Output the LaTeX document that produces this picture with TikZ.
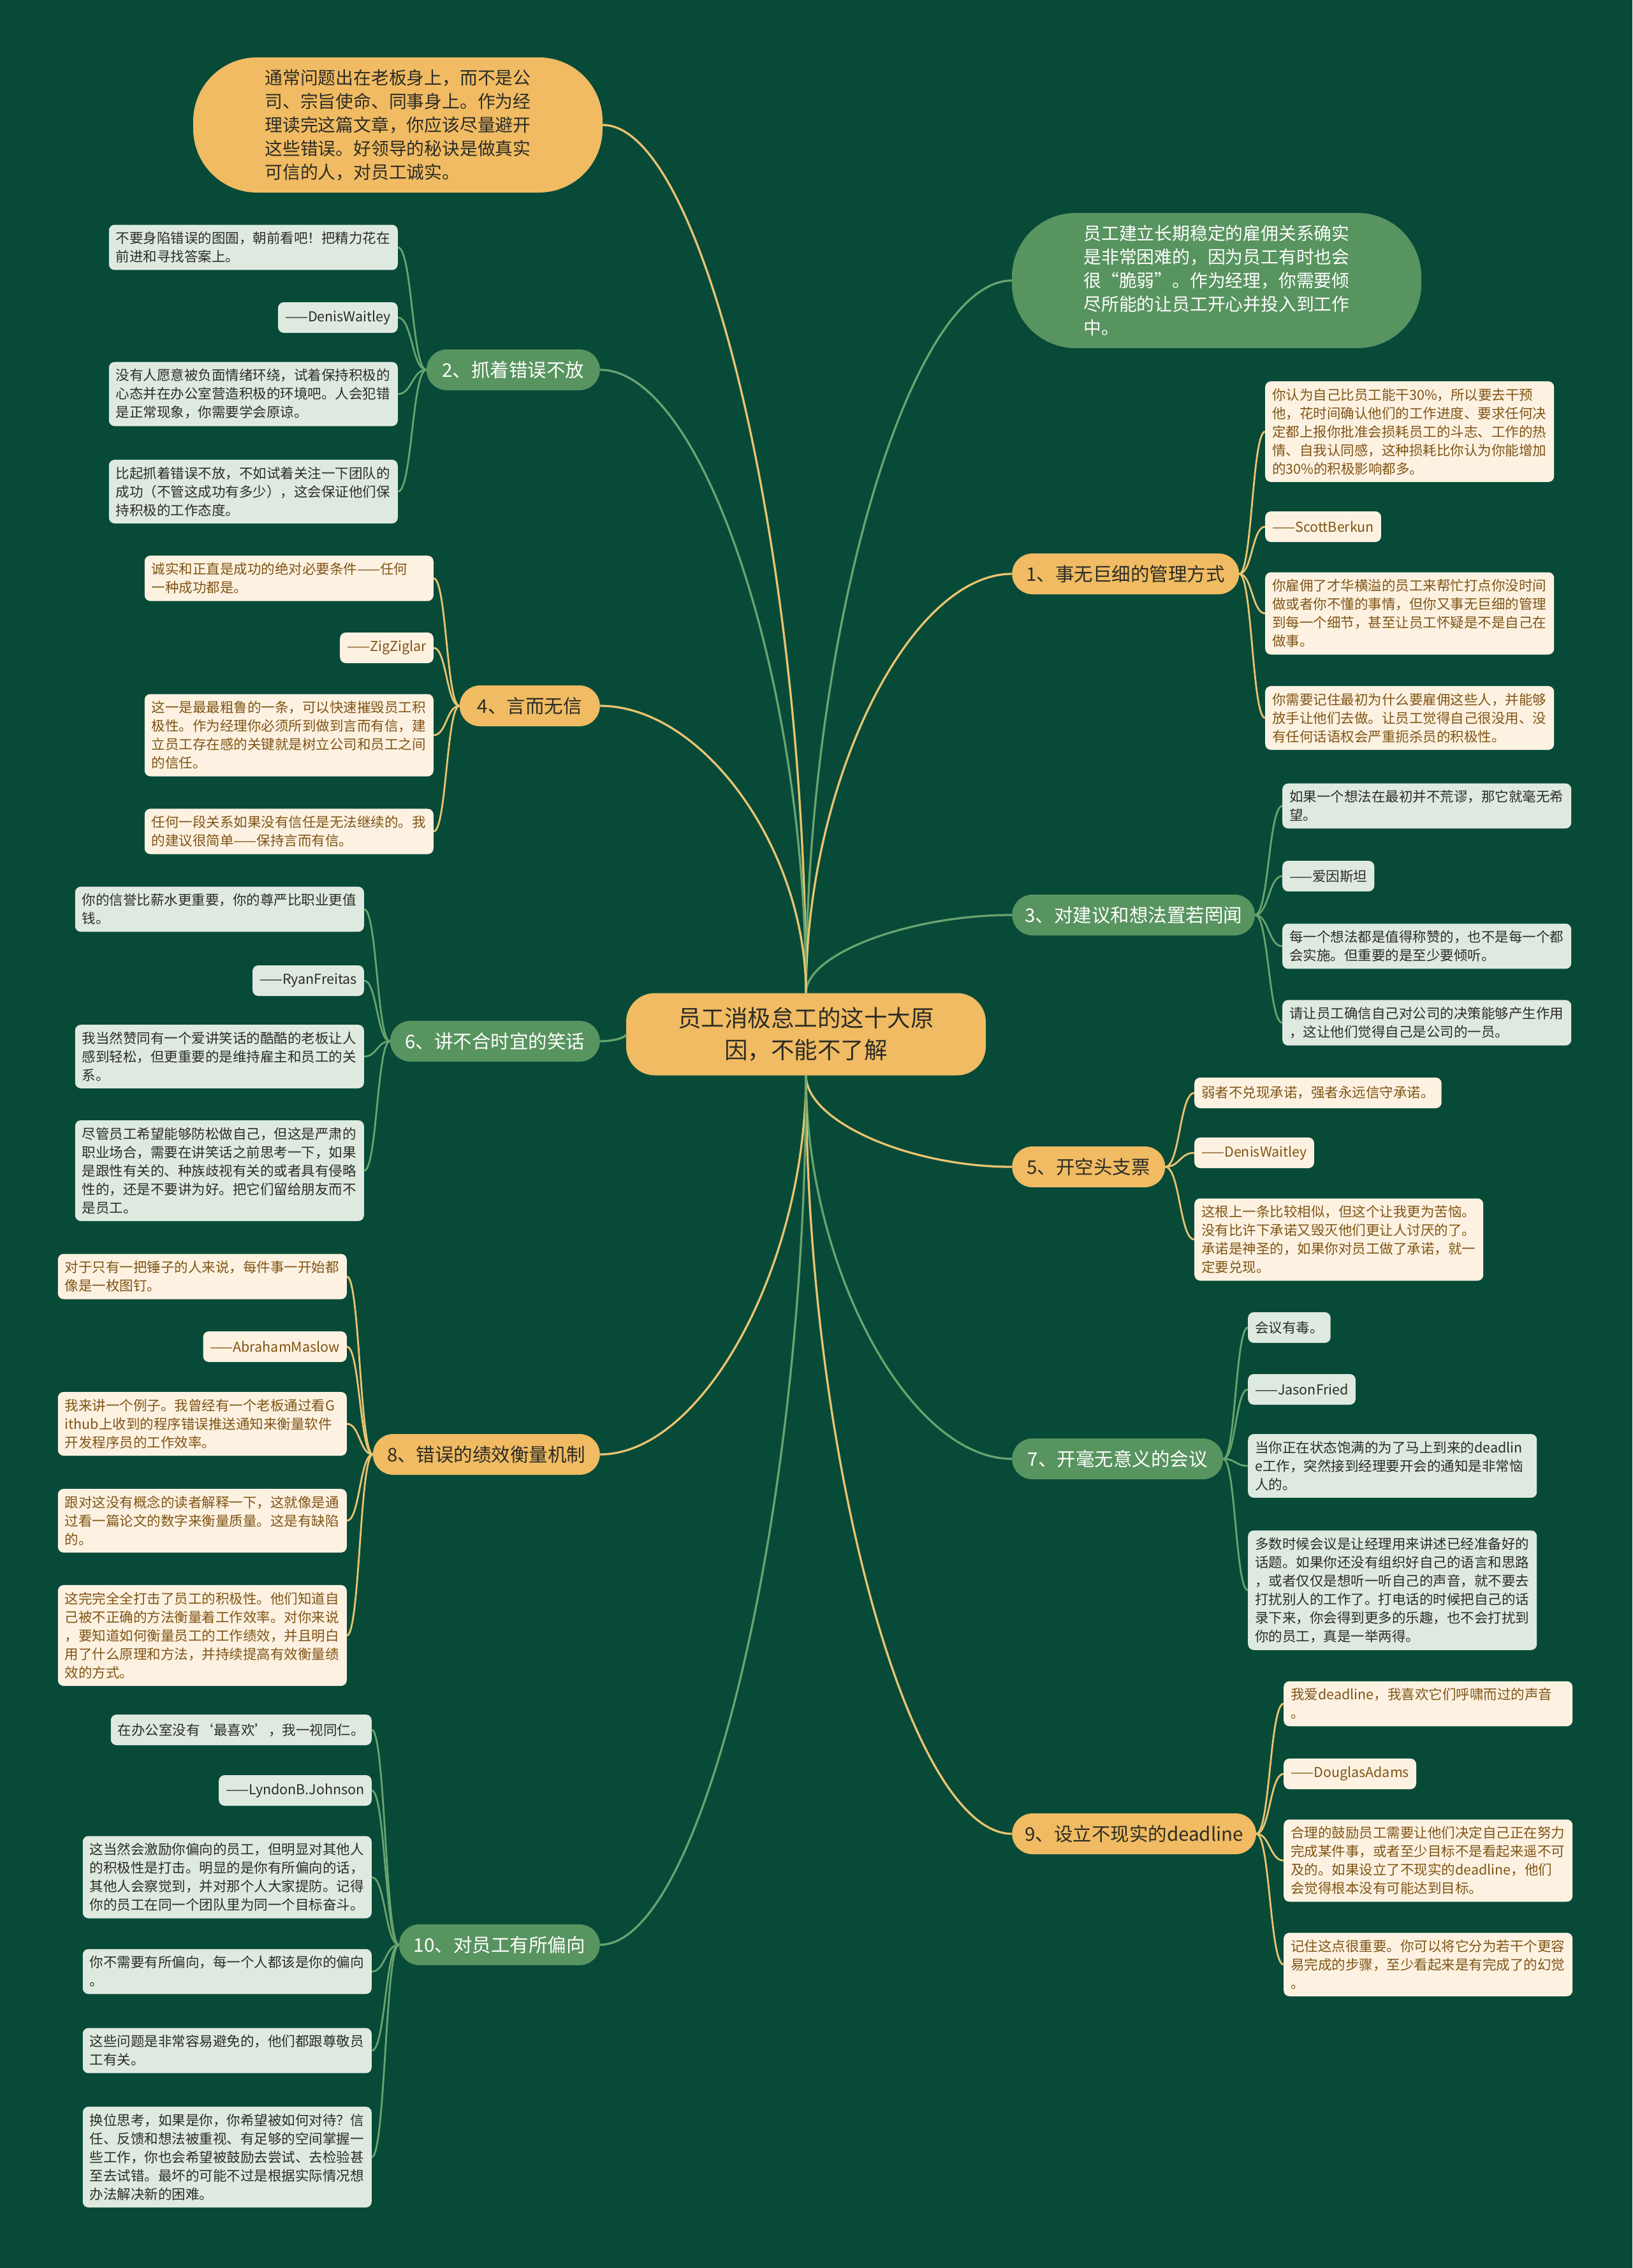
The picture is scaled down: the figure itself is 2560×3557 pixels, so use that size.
\documentclass[tikz,border=0pt]{standalone}
\usepackage{fontspec}
\setmainfont{Noto Sans CJK SC}
\usetikzlibrary{calc}
\definecolor{mapbg}{RGB}{8,74,56}
\definecolor{maporange}{RGB}{240,187,98}
\definecolor{mapgreen}{RGB}{88,148,95}
\definecolor{leafgreen}{RGB}{222,234,224}
\definecolor{leafcream}{RGB}{253,242,226}
\definecolor{inkbrown}{RGB}{128,84,20}
\definecolor{inkdark}{RGB}{44,44,38}
\definecolor{lineorange}{RGB}{233,196,112}
\definecolor{linegreen}{RGB}{104,164,110}

\begin{document}
\begin{tikzpicture}[
    x=1pt, y=1pt,
    root/.style={rectangle, rounded corners=45pt, fill=maporange, text=inkdark,
                 minimum width=564pt, minimum height=129pt, align=center,
                 font=\fontsize{36.5}{50}\selectfont},
    note/.style={rectangle, rounded corners=100pt, minimum width=642pt,
                 minimum height=212pt, align=left,
                 font=\fontsize{27.8}{37}\selectfont},
    topic/.style={rectangle, rounded corners=32pt, minimum height=64pt,
                  inner xsep=20pt, font=\fontsize{29.5}{34}\selectfont},
    gtopic/.style={topic, fill=mapgreen, text=white},
    otopic/.style={topic, fill=maporange, text=inkdark},
    leaf/.style={rectangle, rounded corners=9pt, inner xsep=11pt, inner ysep=11pt,
                 minimum height=48pt, align=left,
                 font=\fontsize{21.5}{29}\selectfont},
    gleaf/.style={leaf, fill=leafgreen, text=inkdark},
    oleaf/.style={leaf, fill=leafcream, text=inkbrown},
    wide/.style={text width=431pt},
    branch/.style={line width=3.3pt, to path={
        .. controls ($(\tikztostart)!.5!(\tikztostart |- \tikztotarget)$)
        and ($(\tikztotarget)!.5!(\tikztostart |- \tikztotarget)$) .. (\tikztotarget)}},
    twig/.style={line width=2.8pt, to path={
        .. controls ($(\tikztostart)!.5!(\tikztotarget |- \tikztostart)$)
        and ($(\tikztotarget)!.5!(\tikztostart |- \tikztotarget)$) .. (\tikztotarget)}}
  ]
  \useasboundingbox (0,0) rectangle (2560,-3557);
  \fill[mapbg] (0,0) rectangle (2560,-3557);

  \node[root] (root) at (1264,-1622) {员工消极怠工的这十大原\\因，不能不了解};

  \node[note, fill=maporange, text=inkdark] (tipL) at (624,-196)
    {通常问题出在老板身上，而不是公\\司、宗旨使命、同事身上。作为经\\理读完这篇文章，你应该尽量避开\\这些错误。好领导的秘诀是做真实\\可信的人，对员工诚实。};
  \node[note, fill=mapgreen, text=white] (tipR) at (1908,-440)
    {员工建立长期稳定的雇佣关系确实\\是非常困难的，因为员工有时也会\\很“脆弱”。作为经理，你需要倾\\尽所能的让员工开心并投入到工作\\中。};

  \node[otopic, minimum width=356pt, anchor=west] (b1) at (1587,-900) {1、事无巨细的管理方式};
  \node[gtopic, minimum width=272pt, anchor=east] (b2) at (941,-580) {2、抓着错误不放};
  \node[gtopic, minimum width=372pt, anchor=west] (b3) at (1587,-1435) {3、对建议和想法置若罔闻};
  \node[otopic, minimum width=220pt, anchor=east] (b4) at (941,-1107) {4、言而无信};
  \node[otopic, minimum width=240pt, anchor=west] (b5) at (1587,-1830) {5、开空头支票};
  \node[gtopic, minimum width=329pt, anchor=east] (b6) at (941,-1633) {6、讲不合时宜的笑话};
  \node[gtopic, minimum width=331pt, anchor=west] (b7) at (1587,-2288) {7、开毫无意义的会议};
  \node[otopic, minimum width=356pt, anchor=east] (b8) at (941,-2281) {8、错误的绩效衡量机制};
  \node[otopic, minimum width=379pt, anchor=west] (b9) at (1587,-2876) {9、设立不现实的deadline};
  \node[gtopic, minimum width=315pt, anchor=east] (b10) at (941,-3050) {10、对员工有所偏向};

  \node[gleaf, wide, anchor=east] (l2a) at (624,-388)
    {不要身陷错误的图圄，朝前看吧！把精力花在\\前进和寻找答案上。};
  \node[gleaf, anchor=east] (l2b) at (624,-498) {——DenisWaitley};
  \node[gleaf, wide, anchor=east] (l2c) at (624,-618)
    {没有人愿意被负面情绪环绕，试着保持积极的\\心态并在办公室营造积极的环境吧。人会犯错\\是正常现象，你需要学会原谅。};
  \node[gleaf, wide, anchor=east] (l2d) at (624,-771)
    {比起抓着错误不放，不如试着关注一下团队的\\成功（不管这成功有多少），这会保证他们保\\持积极的工作态度。};

  \node[oleaf, wide, anchor=east] (l4a) at (680,-907)
    {诚实和正直是成功的绝对必要条件——任何\\一种成功都是。};
  \node[oleaf, anchor=east] (l4b) at (680,-1016) {——ZigZiglar};
  \node[oleaf, wide, anchor=east] (l4c) at (680,-1153)
    {这一是最最粗鲁的一条，可以快速摧毁员工积\\极性。作为经理你必须所到做到言而有信，建\\立员工存在感的关键就是树立公司和员工之间\\的信任。};
  \node[oleaf, wide, anchor=east] (l4d) at (680,-1304)
    {任何一段关系如果没有信任是无法继续的。我\\的建议很简单——保持言而有信。};

  \node[gleaf, wide, anchor=east] (l6a) at (571,-1426)
    {你的信誉比薪水更重要，你的尊严比职业更值\\钱。};
  \node[gleaf, anchor=east] (l6b) at (571,-1538) {——RyanFreitas};
  \node[gleaf, wide, anchor=east] (l6c) at (571,-1657)
    {我当然赞同有一个爱讲笑话的酷酷的老板让人\\感到轻松，但更重要的是维持雇主和员工的关\\系。};
  \node[gleaf, wide, anchor=east] (l6d) at (571,-1836)
    {尽管员工希望能够防松做自己，但这是严肃的\\职业场合，需要在讲笑话之前思考一下，如果\\是跟性有关的、种族歧视有关的或者具有侵略\\性的，还是不要讲为好。把它们留给朋友而不\\是员工。};

  \node[oleaf, wide, anchor=east] (l8a) at (544,-2002)
    {对于只有一把锤子的人来说，每件事一开始都\\像是一枚图钉。};
  \node[oleaf, anchor=east] (l8b) at (544,-2112) {——AbrahamMaslow};
  \node[oleaf, wide, anchor=east] (l8c) at (544,-2233)
    {我来讲一个例子。我曾经有一个老板通过看G\\ithub上收到的程序错误推送通知来衡量软件\\开发程序员的工作效率。};
  \node[oleaf, wide, anchor=east] (l8d) at (544,-2385)
    {跟对这没有概念的读者解释一下，这就像是通\\过看一篇论文的数字来衡量质量。这是有缺陷\\的。};
  \node[oleaf, wide, anchor=east] (l8e) at (544,-2565)
    {这完完全全打击了员工的积极性。他们知道自\\己被不正确的方法衡量着工作效率。对你来说\\，要知道如何衡量员工的工作绩效，并且明白\\用了什么原理和方法，并持续提高有效衡量绩\\效的方式。};

  \node[gleaf, anchor=east] (l10a) at (583,-2713) {在办公室没有‘最喜欢’，我一视同仁。};
  \node[gleaf, anchor=east] (l10b) at (583,-2808) {——LyndonB.Johnson};
  \node[gleaf, wide, anchor=east] (l10c) at (583,-2944)
    {这当然会激励你偏向的员工，但明显对其他人\\的积极性是打击。明显的是你有所偏向的话，\\其他人会察觉到，并对那个人大家提防。记得\\你的员工在同一个团队里为同一个目标奋斗。};
  \node[gleaf, wide, anchor=east] (l10d) at (583,-3092)
    {你不需要有所偏向，每一个人都该是你的偏向\\。};
  \node[gleaf, wide, anchor=east] (l10e) at (583,-3216)
    {这些问题是非常容易避免的，他们都跟尊敬员\\工有关。};
  \node[gleaf, wide, anchor=east] (l10f) at (583,-3383)
    {换位思考，如果是你，你希望被如何对待？信\\任、反馈和想法被重视、有足够的空间掌握一\\些工作，你也会希望被鼓励去尝试、去检验甚\\至去试错。最坏的可能不过是根据实际情况想\\办法解决新的困难。};

  \node[oleaf, wide, anchor=west] (r1a) at (1984,-677)
    {你认为自己比员工能干30\%，所以要去干预\\他，花时间确认他们的工作进度、要求任何决\\定都上报你批准会损耗员工的斗志、工作的热\\情、自我认同感，这种损耗比你认为你能增加\\的30\%的积极影响都多。};
  \node[oleaf, anchor=west] (r1b) at (1984,-826) {——ScottBerkun};
  \node[oleaf, wide, anchor=west] (r1c) at (1984,-962)
    {你雇佣了才华横溢的员工来帮忙打点你没时间\\做或者你不懂的事情，但你又事无巨细的管理\\到每一个细节，甚至让员工怀疑是不是自己在\\做事。};
  \node[oleaf, wide, anchor=west] (r1d) at (1984,-1126)
    {你需要记住最初为什么要雇佣这些人，并能够\\放手让他们去做。让员工觉得自己很没用、没\\有任何话语权会严重扼杀员的积极性。};

  \node[gleaf, wide, anchor=west] (r3a) at (2011,-1264)
    {如果一个想法在最初并不荒谬，那它就毫无希\\望。};
  \node[gleaf, anchor=west] (r3b) at (2011,-1374) {——爱因斯坦};
  \node[gleaf, wide, anchor=west] (r3c) at (2011,-1484)
    {每一个想法都是值得称赞的，也不是每一个都\\会实施。但重要的是至少要倾听。};
  \node[gleaf, wide, anchor=west] (r3d) at (2011,-1604)
    {请让员工确信自己对公司的决策能够产生作用\\，这让他们觉得自己是公司的一员。};

  \node[oleaf, anchor=west] (r5a) at (1873,-1714) {弱者不兑现承诺，强者永远信守承诺。};
  \node[oleaf, anchor=west] (r5b) at (1873,-1808) {——DenisWaitley};
  \node[oleaf, wide, anchor=west] (r5c) at (1873,-1944)
    {这根上一条比较相似，但这个让我更为苦恼。\\没有比许下承诺又毁灭他们更让人讨厌的了。\\承诺是神圣的，如果你对员工做了承诺，就一\\定要兑现。};

  \node[gleaf, anchor=west] (r7a) at (1957,-2082) {会议有毒。};
  \node[gleaf, anchor=west] (r7b) at (1957,-2179) {——JasonFried};
  \node[gleaf, wide, anchor=west] (r7c) at (1957,-2299)
    {当你正在状态饱满的为了马上到来的deadlin\\e工作，突然接到经理要开会的通知是非常恼\\人的。};
  \node[gleaf, wide, anchor=west] (r7d) at (1957,-2494)
    {多数时候会议是让经理用来讲述已经准备好的\\话题。如果你还没有组织好自己的语言和思路\\，或者仅仅是想听一听自己的声音，就不要去\\打扰别人的工作了。打电话的时候把自己的话\\录下来，你会得到更多的乐趣，也不会打扰到\\你的员工，真是一举两得。};

  \node[oleaf, wide, anchor=west] (r9a) at (2013,-2672)
    {我爱deadline，我喜欢它们呼啸而过的声音\\。};
  \node[oleaf, anchor=west] (r9b) at (2013,-2782) {——DouglasAdams};
  \node[oleaf, wide, anchor=west] (r9c) at (2013,-2918)
    {合理的鼓励员工需要让他们决定自己正在努力\\完成某件事，或者至少目标不是看起来遥不可\\及的。如果设立了不现实的deadline，他们\\会觉得根本没有可能达到目标。};
  \node[oleaf, wide, anchor=west] (r9d) at (2013,-3081)
    {记住这点很重要。你可以将它分为若干个更容\\易完成的步骤，至少看起来是有完成了的幻觉\\。};

  \draw[branch, lineorange] (root.north) to (tipL.east);
  \draw[branch, linegreen] (root.north) to (tipR.west);
  \draw[branch, lineorange] (root.north) to (b1.west);
  \draw[branch, linegreen] (root.north) to (b2.east);
  \draw[branch, linegreen] (root.north) to (b3.west);
  \draw[branch, lineorange] (root.north) to (b4.east);
  \draw[branch, lineorange] (root.south) to (b5.west);
  \draw[branch, linegreen] (root.west) to (b6.east);
  \draw[branch, linegreen] (root.south) to (b7.west);
  \draw[branch, lineorange] (root.south) to (b8.east);
  \draw[branch, lineorange] (root.south) to (b9.west);
  \draw[branch, linegreen] (root.south) to (b10.east);

  \foreach \x in {r1a,r1b,r1c,r1d} \draw[twig, lineorange] (b1.east) to (\x.west);
  \foreach \x in {l2a,l2b,l2c,l2d} \draw[twig, linegreen] (b2.west) to (\x.east);
  \foreach \x in {r3a,r3b,r3c,r3d} \draw[twig, linegreen] (b3.east) to (\x.west);
  \foreach \x in {l4a,l4b,l4c,l4d} \draw[twig, lineorange] (b4.west) to (\x.east);
  \foreach \x in {r5a,r5b,r5c} \draw[twig, lineorange] (b5.east) to (\x.west);
  \foreach \x in {l6a,l6b,l6c,l6d} \draw[twig, linegreen] (b6.west) to (\x.east);
  \foreach \x in {r7a,r7b,r7c,r7d} \draw[twig, linegreen] (b7.east) to (\x.west);
  \foreach \x in {l8a,l8b,l8c,l8d,l8e} \draw[twig, lineorange] (b8.west) to (\x.east);
  \foreach \x in {r9a,r9b,r9c,r9d} \draw[twig, lineorange] (b9.east) to (\x.west);
  \foreach \x in {l10a,l10b,l10c,l10d,l10e,l10f} \draw[twig, linegreen] (b10.west) to (\x.east);
\end{tikzpicture}
\end{document}
